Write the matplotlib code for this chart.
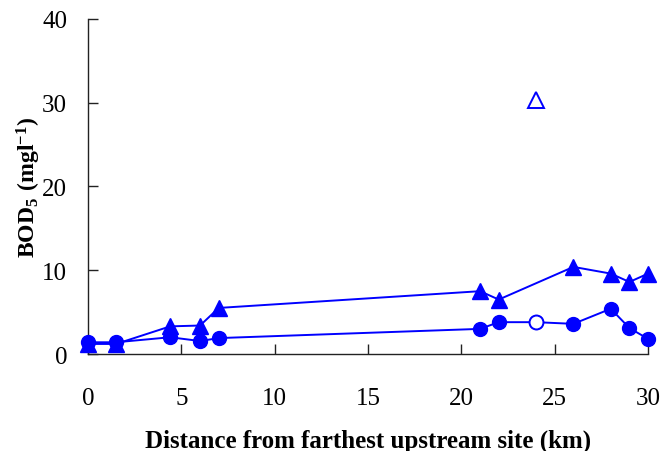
import matplotlib.pyplot as plt

plt.rcParams['font.family'] = 'Liberation Serif'
plt.rcParams['mathtext.fontset'] = 'custom'
plt.rcParams['mathtext.rm'] = 'Liberation Serif'
plt.rcParams['mathtext.bf'] = 'Liberation Serif:bold'

### data ###
dist_circle = [0, 1.5, 4.4, 6, 7, 21, 22, 24, 26, 28, 29, 30]
bod_circle = [1.4, 1.4, 2.0, 1.55, 1.9, 3.0, 3.8, 3.8, 3.6, 5.4, 3.1, 1.8]
dist_triangle = [0, 1.5, 4.4, 6, 7, 21, 22, 26, 28, 29, 30]
bod_triangle = [1.2, 1.2, 3.3, 3.4, 5.5, 7.5, 6.5, 10.4, 9.6, 8.6, 9.6]
open_x = 24
open_circle = 3.8
open_triangle = 30.3

xticks = [0, 5, 10, 15, 20, 25, 30]
yticks = [0, 10, 20, 30, 40]

blue = '#0000ff'

fig = plt.figure(figsize=(6.62, 4.52), dpi=100)
ax = fig.add_axes([0.133, 0.2146, 0.846, 0.7412])

# triangle series
ax.plot(dist_triangle, bod_triangle, color=blue, lw=1.4, marker='^', ms=11,
        clip_on=False, zorder=3)
# circle series
ax.plot(dist_circle, bod_circle, color=blue, lw=1.4, marker='o', ms=10,
        clip_on=False, zorder=3)
# open markers
ax.plot([open_x], [open_circle], marker='o', ms=10, mfc='white',
        mec=blue, mew=1.4, ls='none', zorder=4)
ax.plot([open_x], [open_triangle], marker='^', ms=11, mfc='white',
        mec=blue, mew=1.4, ls='none', zorder=4)

ax.set_xlim(0, 30)
ax.set_ylim(0, 40)
ax.set_xticks(xticks)
ax.set_yticks(yticks)

for s in ['top', 'right']:
    ax.spines[s].set_visible(False)
for s in ['left', 'bottom']:
    ax.spines[s].set_linewidth(1.0)
    ax.spines[s].set_color('#222222')

ax.tick_params(axis='x', direction='in', length=7, width=1, pad=24,
               labelsize=18, color='#222222')
ax.tick_params(axis='y', direction='in', length=7, width=1, pad=15,
               labelsize=18, color='#222222')

ax.set_xlabel('Distance from farthest upstream site (km)', fontsize=18,
              fontweight='bold', labelpad=14)
ax.set_ylabel(r'$\mathbf{BOD_5\ (mgl^{-1})}$', fontsize=17)
ax.yaxis.set_label_coords(-0.08, 0.5)

plt.savefig('out.png', dpi=100)
